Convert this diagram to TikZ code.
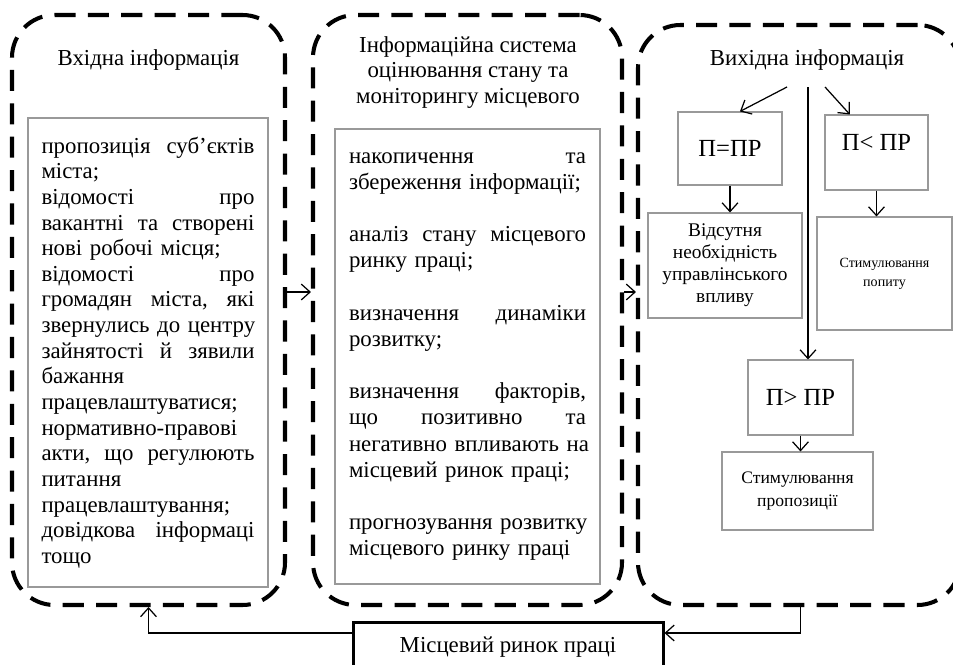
\documentclass[tikz,border=0pt]{standalone}
\usepackage{fontspec}
\setmainfont{Liberation Serif}
\usetikzlibrary{positioning, arrows.meta, calc}

\begin{document}
\begin{tikzpicture}[
	frame/.style={draw, rectangle, rounded corners=0.85cm, line width=2.3pt, dash pattern=on 12pt off 7pt, inner sep=0pt},
	listbox/.style={draw=gray!80, rectangle, line width=0.6pt, align=left, inner sep=0pt},
	box/.style={draw=gray!80, rectangle, line width=0.6pt, text centered, align=center, inner sep=0pt},
	link/.style={line width=0.7pt, -{Straight Barb[length=5pt,width=9pt]}},
	title/.style={font=\fontsize{13pt}{14.7pt}\selectfont, align=center}
	]
		\useasboundingbox (0,0) rectangle (19.06,-13.28);
		\clip (0,0) rectangle (19.06,-13.28);
		
		\node (Input Frame) at (2.97,-6.2) [frame, minimum width=5.46cm, minimum height=11.8cm]{};
		
		\node (Input Title) at (2.97,-1.2) [title]{Вхідна інформація};
		
		\node (Input List) at (2.96,-7.05) [listbox, minimum width=4.8cm, minimum height=9.38cm, 
		text width=4.26cm, font=\fontsize{13pt}{14.6pt}\selectfont]{пропозиція~\hfill суб’єктів\\
		міста;\\
		відомості~\hfill про\\
		вакантні~\hfill та~\hfill створені\\
		нові робочі місця;\\
		відомості~\hfill про\\
		громадян~\hfill міста,~\hfill які\\
		звернулись~\hfill до~\hfill центру\\
		зайнятості~\hfill й~\hfill зявили\\
		бажання\\
		працевлаштуватися;\\
		нормативно-правові\\
		акти,~\hfill що~\hfill регулюють\\
		питання\\
		працевлаштування;\\
		довідкова~\hfill інформаці\\
		тощо};
		
		\node (System Frame) at (9.35,-6.2) [frame, minimum width=6.18cm, minimum height=11.8cm]{};
		
		\node (System Title) at (9.36,-1.45) [title]{Інформаційна система\\оцінювання стану та\\моніторингу місцевого};
		
		\node (System List) at (9.35,-7.13) [listbox, minimum width=5.3cm, minimum height=9.1cm, 
		text width=4.74cm, font=\fontsize{13pt}{14.9pt}\selectfont]{накопичення~\hfill та\\
		збереження~інформації;\\[14.9pt]
		аналіз~\hfill стану~\hfill місцевого\\
		ринку праці;\\[14.9pt]
		визначення~\hfill динаміки\\
		розвитку;\\[14.9pt]
		визначення~\hfill факторів,\\
		що~\hfill позитивно~\hfill та\\
		негативно~\hfill впливають~\hfill на\\
		місцевий~ринок~праці;\\[14.9pt]
		прогнозування~\hfill розвитку\\
		місцевого~ринку~праці};
		
		\node (Output Frame) at (15.98,-6.3) [frame, minimum width=6.44cm, minimum height=11.6cm]{};
		
		\node (Output Title) at (16.14,-1.2) [title]{Вихідна інформація};
		
		\coordinate (Fork) at (16.16,-1.74);
		
		\node (Equal Box) at (14.6,-2.97) [box, minimum width=2.08cm, minimum height=1.46cm, 
		font=\fontsize{14pt}{16pt}\selectfont]{П=ПР};
		
		\node (No Influence) at (14.5,-5.31) [box, minimum width=3.08cm, minimum height=2.1cm, 
		font=\fontsize{11pt}{12.5pt}\selectfont]{Відсутня\\необхідність\\управлінського\\впливу};
		
		\node (Less Box) at (17.53,-3.05) [box, minimum width=2.06cm, minimum height=1.5cm, text depth=0.4cm, 
		font=\fontsize{14pt}{16pt}\selectfont]{П< ПР};
		
		\node (Demand Stimulus) at (17.69,-5.47) [box, minimum width=2.7cm, minimum height=2.26cm, 
		font=\fontsize{8pt}{10.8pt}\selectfont]{Стимулювання\\попиту};
		
		\node (Greater Box) at (16.01,-7.95) [box, minimum width=2.1cm, minimum height=1.5cm, 
		font=\fontsize{14pt}{16pt}\selectfont]{П> ПР};
		
		\node (Supply Stimulus) at (15.95,-9.82) [box, minimum width=3.02cm, minimum height=1.56cm, 
		font=\fontsize{10pt}{13pt}\selectfont]{Стимулювання\\пропозиції};
		
		\node (Labour Market) at (10.16,-12.94) [draw, rectangle, line width=1.7pt, minimum width=6.2cm, 
		minimum height=1cm, font=\fontsize{13pt}{14.7pt}\selectfont]{Місцевий ринок праці};
		
		%Links
		\draw[link] ([yshift=0.36cm]Input Frame.east) -- ([yshift=0.36cm]System Frame.west);
		\coordinate (System Out) at ([yshift=0.36cm]System Frame.east);
		\draw[link] (System Out) -- (System Out -| Output Frame.west);
		\draw[link] ([xshift=-0.42cm]Fork) -- (Equal Box.75);
		\draw[link] ([xshift=0.34cm]Fork) -- (Less Box.125);
		\draw[link] (Fork) -- (Fork |- Greater Box.north);
		\draw[link] (Equal Box.south) -- (Equal Box.south |- No Influence.north);
		\draw[link] (Less Box.south) -- (Less Box.south |- Demand Stimulus.north);
		\draw[link] (Greater Box.south) -- (Greater Box.south |- Supply Stimulus.north);
		\draw[link] (Output Frame.south -| Greater Box.south) |- ([yshift=0.28cm]Labour Market.east);
		\draw[link] ([yshift=0.28cm]Labour Market.west) -| (Input Frame.south);
		
\end{tikzpicture}
\end{document}
